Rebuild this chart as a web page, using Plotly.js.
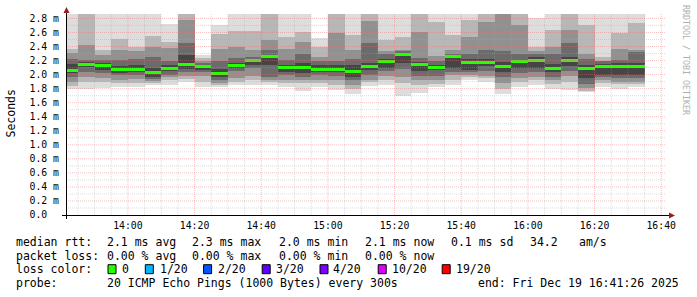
<!DOCTYPE html>
<html><head><meta charset="utf-8">
<script src="https://cdn.plot.ly/plotly-3.0.1.min.js"></script>
<style>html,body{margin:0;padding:0;background:#fff;}#chart{width:697px;height:297px;}</style>
</head><body><div id="chart"></div>
<script>
// ---------- data ----------
const day = "2025-12-19";
const slotStart = ["13:40","13:45","13:50","13:55","14:00","14:05","14:10","14:15","14:20","14:25",
  "14:30","14:35","14:40","14:45","14:50","14:55","15:00","15:05","15:10","15:15",
  "15:20","15:25","15:30","15:35","15:40","15:45","15:50","15:55","16:00","16:05",
  "16:10","16:15","16:20","16:25","16:30"];
// median rtt per 5-minute slot (ms)
const medianRtt = [2.065,2.15,2.135,2.075,2.075,2.035,2.09,2.15,2.11,2.02,
  2.135,2.195,2.255,2.10,2.10,2.075,2.075,2.04,2.12,2.185,
  2.29,2.145,2.10,2.255,2.175,2.175,2.11,2.185,2.20,2.085,
  2.20,2.09,2.12,2.11,2.12];
// smoke: ping distribution bounds, outer (1) to inner (5), upper and lower (ms)
const hi1 = [3,3,3,3,3,3,2.72,3,2.28,2.71,3,3,3,3,3,2.52,3,3,3,3,3,3,3,3,3,3,3,3,2.80,3,3,3,3,3,3];
const hi2 = [2.37,3,2.35,2.51,2.40,2.55,2.47,3,2.23,2.58,2.62,2.62,3,2.54,2.61,2.40,3,2.56,3,2.50,
  2.54,3,2.75,2.56,2.78,3,3,3,2.40,2.63,3,2.70,2.25,2.59,2.73];
const hi3 = [2.31,2.42,2.28,2.35,2.33,2.40,2.38,2.78,2.19,2.36,2.40,2.35,2.49,2.37,2.47,2.25,2.59,2.35,2.76,2.33,
  2.35,2.61,2.26,2.35,2.54,2.75,3,2.70,2.33,2.40,2.63,2.30,2.20,2.37,2.35];
const hi4 = [2.22,2.21,2.21,2.21,2.22,2.25,2.20,2.45,2.16,2.19,2.24,2.25,2.35,2.21,2.30,2.20,2.19,2.22,2.45,2.30,
  2.33,2.24,2.20,2.30,2.30,2.35,2.33,2.30,2.30,2.30,2.45,2.22,2.19,2.21,2.32];
const hi5 = [2.15,2.18,2.16,2.12,2.13,2.10,2.14,2.28,2.13,2.08,2.17,2.22,2.28,2.14,2.16,2.13,2.13,2.13,2.17,2.22,
  2.31,2.18,2.14,2.28,2.22,2.22,2.18,2.21,2.25,2.15,2.25,2.14,2.15,2.16,2.16];
const lo5 = [2.02,2.11,2.07,2.02,2.03,1.97,2.05,2.08,2.07,1.97,2.09,2.14,2.14,2.04,2.02,2.04,2.03,1.96,2.06,2.10,
  2.17,2.05,2.06,2.09,2.07,2.12,2.03,2.10,2.10,2.03,2.12,1.95,2.00,1.99,1.99];
const lo4 = [1.97,2.04,2.02,1.99,2.00,1.94,2.00,2.03,2.03,1.93,2.05,2.09,1.97,2.00,1.97,2.00,1.98,1.92,2.00,2.05,
  2.08,1.98,1.98,2.04,2.04,2.05,1.97,2.02,2.03,1.97,2.05,1.86,1.96,1.95,1.95];
const lo3 = [1.90,1.97,1.95,1.93,1.94,1.91,1.96,1.98,1.98,1.88,1.95,1.98,1.93,1.93,1.92,1.93,1.92,1.85,1.93,1.98,
  1.97,1.92,1.92,1.99,2.00,1.98,1.88,1.95,1.97,1.92,1.98,1.81,1.92,1.90,1.90];
const lo2 = [1.84,1.89,1.90,1.88,1.88,1.88,1.93,1.94,1.90,1.85,1.90,1.92,1.90,1.88,1.88,1.88,1.85,1.80,1.89,1.93,
  1.88,1.85,1.87,1.93,1.97,1.95,1.80,1.90,1.92,1.86,1.90,1.77,1.88,1.86,1.87];
const lo1 = [1.79,1.79,1.81,1.83,1.83,1.85,1.85,1.90,1.82,1.82,1.85,1.85,1.85,1.82,1.76,1.83,1.78,1.73,1.84,1.85,
  1.70,1.74,1.82,1.85,1.92,1.89,1.73,1.83,1.85,1.79,1.78,1.75,1.83,1.80,1.83];

const xTickLabels = ["14:00","14:20","14:40","15:00","15:20","15:40","16:00","16:20","16:40"];
const yTickValues = [0,0.2,0.4,0.6,0.8,1.0,1.2,1.4,1.6,1.8,2.0,2.2,2.4,2.6,2.8];
const yTickLabels = ["0.0\u00a0\u00a0","0.2 m","0.4 m","0.6 m","0.8 m","1.0 m","1.2 m","1.4 m","1.6 m","1.8 m","2.0 m","2.2 m","2.4 m","2.6 m","2.8 m"];

const rttLabel = "median rtt:";
const rttStats = ["2.1 ms avg","2.3 ms max","2.0 ms min","2.1 ms now","0.1 ms sd","34.2","am/s"];
const lossLabel = "packet loss:";
const lossStats = ["0.00 % avg","0.00 % max","0.00 % min","0.00 % now"];
const lossColorTitle = "loss color:";
const lossColorLabels = ["0","1/20","2/20","3/20","4/20","10/20","19/20"];
const lossColors = ["#26ff00","#00b8ff","#0059ff","#5e00ff","#7e00ff","#dd00ff","#ff0000"];
const probeLabel = "probe:";
const probeText = "20 ICMP Echo Pings (1000 Bytes) every 300s";
const endText = "end: Fri Dec 19 16:41:26 2025";
const yUnit = "Seconds";
const watermark = "RRDTOOL / TOBI OETIKER";

// ---------- drawing ----------
const FONT = "DejaVu Sans Mono";
const xs = slotStart.map(t => day + " " + t + ":00");
const SLOT = 5 * 60 * 1000;
const smokeColors = ["#dddddd","#b7b7b7","#919191","#6b6b6b","#454545"];
const his = [hi1,hi2,hi3,hi4,hi5], los = [lo1,lo2,lo3,lo4,lo5];
const traces = [];
for (let k = 0; k < 5; k++) {
  traces.push({type:"bar", x: xs, base: los[k], y: his[k].map((h,i)=>h - los[k][i]),
    width: SLOT, offset: 0, marker:{color: smokeColors[k], line:{width:0}}, hoverinfo:"skip"});
}
const LW = 0.042;
traces.push({type:"bar", x: xs, base: medianRtt.map(m=>m-LW/2), y: medianRtt.map(()=>LW),
  width: SLOT, offset: 0, marker:{color: lossColors[0], line:{width:0}}, hoverinfo:"skip"});

// pixel helpers (plot area: x 66..666, y 14..215)
const L = 66, W = 600, T = 14, H = 201;
const px = X => (X - L) / W;
const py = Y => (T + H - Y) / H;

const MAJ = "rgba(232,110,110,0.42)", MIN = "rgba(165,165,165,0.38)";
const shapes = [];
// grid above the smoke, like rrdtool
for (let i = 1; i <= 28; i++) {
  const major = i % 2 === 0;
  shapes.push({type:"line", xref:"paper", yref:"y", x0:0, x1:1, y0:i/10, y1:i/10, layer:"above",
    line:{color: major ? MAJ : MIN, width:1, dash:"1px,1px"}});
}
for (let m = 13*60+45; m <= 16*60+40; m += 5) {
  const hh = String(Math.floor(m/60)).padStart(2,"0"), mm = String(m%60).padStart(2,"0");
  const major = (m % 20) === 0;
  shapes.push({type:"line", xref:"x", yref:"paper", x0: day+" "+hh+":"+mm+":00", x1: day+" "+hh+":"+mm+":00",
    y0:0, y1:1, layer:"above",
    line:{color: major ? MAJ : MIN, width:1, dash:"1px,1px"}});
}
// axis lines + arrows
shapes.push({type:"line", xref:"paper", yref:"paper", x0:px(62), x1:px(670), y0:py(215.5), y1:py(215.5), layer:"above", line:{color:"#000", width:1}});
shapes.push({type:"line", xref:"paper", yref:"paper", x0:px(66.5), x1:px(66.5), y0:py(219), y1:py(11), layer:"above", line:{color:"#000", width:1}});
shapes.push({type:"path", xref:"paper", yref:"paper", layer:"above", line:{width:0}, fillcolor:"#9b1c1c",
  path:`M ${px(669)},${py(212.5)} L ${px(675)},${py(215.5)} L ${px(669)},${py(218.5)} Z`});
shapes.push({type:"path", xref:"paper", yref:"paper", layer:"above", line:{width:0}, fillcolor:"#9b1c1c",
  path:`M ${px(63.5)},${py(13)} L ${px(66.5)},${py(7)} L ${px(69.5)},${py(13)} Z`});

const ann = [];
const LEG = 11.5;
function txt(X, Y, s, opts) {
  ann.push(Object.assign({xref:"paper", yref:"paper", x:px(X), y:py(Y), text:s, showarrow:false,
    xanchor:"left", yanchor:"middle", borderpad:0, borderwidth:0,
    font:{family:FONT, size:LEG, color:"#000"}}, opts || {}));
}
const col0 = 15.6;
const cols = [106.7,192.4,279.1,365.3,451.1,529.8,578.7];
const rowY = [241.8,255.5,269.2,282.9];
txt(col0, rowY[0], rttLabel);
rttStats.forEach((s,i)=>txt(cols[i], rowY[0], s));
txt(col0, rowY[1], lossLabel);
lossStats.forEach((s,i)=>txt(cols[i], rowY[1], s));
txt(col0, rowY[2], lossColorTitle);
const boxX = [108,145.3,203.6,262.2,320,378.2,442.2];
const labX = [122.2,160,217.8,275.6,333.3,392,455.6];
lossColorLabels.forEach((s,i)=>{
  txt(labX[i], rowY[2], s);
  shapes.push({type:"rect", xref:"paper", yref:"paper", layer:"above",
    x0:px(boxX[i]), x1:px(boxX[i]+8), y0:py(rowY[2]+4.5), y1:py(rowY[2]-4.5),
    fillcolor: lossColors[i], line:{color:"#000", width:1}});
});
txt(col0, rowY[3], probeLabel);
txt(106.7, rowY[3], probeText);
txt(477.8, rowY[3], endText);
ann.push({xref:"paper", yref:"paper", x:px(10.5), y:py(114), text:yUnit, showarrow:false, textangle:-90,
  xanchor:"center", yanchor:"middle", borderpad:0, font:{family:FONT, size:LEG, color:"#000"}});
ann.push({xref:"paper", yref:"paper", x:px(686), y:py(60), text:watermark, showarrow:false, textangle:90,
  xanchor:"center", yanchor:"middle", borderpad:0, font:{family:FONT, size:8.3, color:"#b0b0b0"}});

const layout = {
  width:697, height:297,
  margin:{l:L, r:697-L-W, t:T, b:297-T-H, pad:0},
  paper_bgcolor:"#ffffff", plot_bgcolor:"#ffffff",
  showlegend:false, barmode:"overlay", bargap:0,
  font:{family:FONT, size:9.8, color:"#000"},
  xaxis:{type:"date", range:[day+" 13:41:26", day+" 16:41:26"], showgrid:false, zeroline:false, showline:false,
    tickmode:"array", tickvals: xTickLabels.map(t=>day+" "+t+":00"), ticktext: xTickLabels,
    ticks:"outside", ticklen:1, tickcolor:"rgba(0,0,0,0)", tickfont:{family:FONT, size:9.8, color:"#000"}, fixedrange:true},
  yaxis:{range:[0, H/70.2], showgrid:false, zeroline:false, showline:false,
    tickmode:"array", tickvals: yTickValues, ticktext: yTickLabels,
    ticks:"outside", ticklen:4, tickcolor:"rgba(0,0,0,0)", tickfont:{family:FONT, size:9.8, color:"#000"}, fixedrange:true},
  shapes: shapes, annotations: ann
};
Plotly.newPlot("chart", traces, layout, {staticPlot:true, displayModeBar:false});
</script></body></html>
